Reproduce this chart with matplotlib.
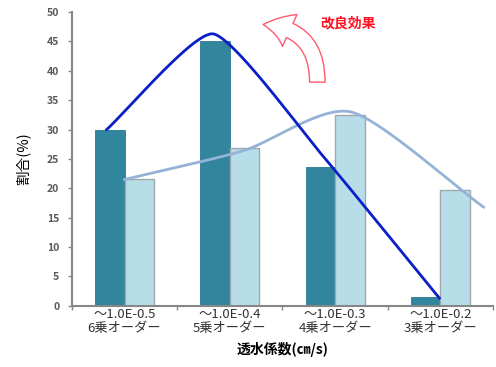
import numpy as np
import matplotlib.pyplot as plt
from matplotlib.patches import FancyArrowPatch

plt.rcParams['font.family'] = ['Noto Sans CJK JP', 'DejaVu Sans']

# 透水係数の区分ごとの割合
categories = ['～1.0E-0.5\n6乗オーダー', '～1.0E-0.4\n5乗オーダー',
              '～1.0E-0.3\n4乗オーダー', '～1.0E-0.2\n3乗オーダー']
before = [30.0, 45.0, 23.6, 1.4]
after = [21.5, 26.9, 32.4, 19.7]

# 傾向線（手書き風の曲線）の節点
before_curve_x = [-0.17, 0.84, 1.87, 2.99]
before_curve_y = [30.0, 46.3, 25.8, 1.3]
after_curve_x = [0.0, 1.13, 2.15, 3.41]
after_curve_y = [21.5, 26.4, 33.0, 16.8]


def smooth(xs, ys, k=1 / 6, n=60):
    # Catmull-Rom 系のベジェ補間（k が小さいほど角が立つ）
    p = np.column_stack([xs, ys])
    p = np.vstack([2 * p[0] - p[1], p, 2 * p[-1] - p[-2]])
    out = []
    t = np.linspace(0, 1, n)[:, None]
    for i in range(1, len(p) - 2):
        p0, p1, p2, p3 = p[i - 1], p[i], p[i + 1], p[i + 2]
        c1 = p1 + (p2 - p0) * k
        c2 = p2 - (p3 - p1) * k
        seg = ((1 - t) ** 3) * p1 + 3 * ((1 - t) ** 2) * t * c1 + 3 * (1 - t) * t ** 2 * c2 + t ** 3 * p2
        out.append(seg)
    out = np.vstack(out)
    return out[:, 0], out[:, 1]


fig = plt.figure(figsize=(4.96, 3.67), dpi=100)
ax = fig.add_axes([0.145, 0.167, 0.849, 0.800])

x = np.arange(len(categories))
w = 0.28
ax.bar(x - w / 2, before, w, color='#31859C', edgecolor='#2B7A8F', linewidth=0.6, zorder=2)
ax.bar(x + w / 2, after, w, color='#B7DEE8', edgecolor='#9FA9AD', linewidth=1.0, zorder=2)

bx, by = smooth(before_curve_x, before_curve_y, k=0.09)
ax.plot(bx, by, color='#0A1FC8', lw=2.0, zorder=4)
lx, ly = smooth(after_curve_x, after_curve_y, k=0.12)
ax.plot(lx, ly, color='#95B3D7', lw=2.0, zorder=3)

ax.set_xlim(-0.5, 3.5)
ax.set_ylim(0, 50)
ax.set_yticks(np.arange(0, 51, 5))
ax.set_xticks(x)
ax.set_xticklabels(categories, fontsize=9.5, color='#333333', linespacing=1.1)
ax.set_xticks(np.arange(-0.5, 3.6, 1), minor=True)
ax.tick_params(axis='x', which='major', length=0, pad=2)
ax.tick_params(axis='x', which='minor', length=3, color='#868686', width=1)
ax.tick_params(axis='y', length=3, color='#868686', width=1, labelsize=7.5, labelcolor='#595959', pad=6)
for lab in ax.get_yticklabels():
    lab.set_fontweight('bold')

for s in ['top', 'right']:
    ax.spines[s].set_visible(False)
for s in ['left', 'bottom']:
    ax.spines[s].set_color('#868686')
    ax.spines[s].set_linewidth(1.5)

ax.set_ylabel('割合(%)', fontsize=10.5, labelpad=12)
ax.set_xlabel('透水係数(㎝/s)', fontsize=10, fontweight='bold', labelpad=5)

# 改良効果の矢印
arrow = FancyArrowPatch((1.83, 37.6), (1.29, 47.9),
                        connectionstyle='arc3,rad=0.5',
                        arrowstyle='simple,head_width=1.8,head_length=1.4,tail_width=0.8',
                        mutation_scale=14, facecolor='white', edgecolor='#FF5A6E',
                        linewidth=1.0, zorder=5)
ax.add_patch(arrow)
ax.text(2.12, 48.1, '改良効果', color='#FF1020', fontsize=10, fontweight='bold',
        ha='center', va='center')

fig.savefig('out.png', dpi=100)
